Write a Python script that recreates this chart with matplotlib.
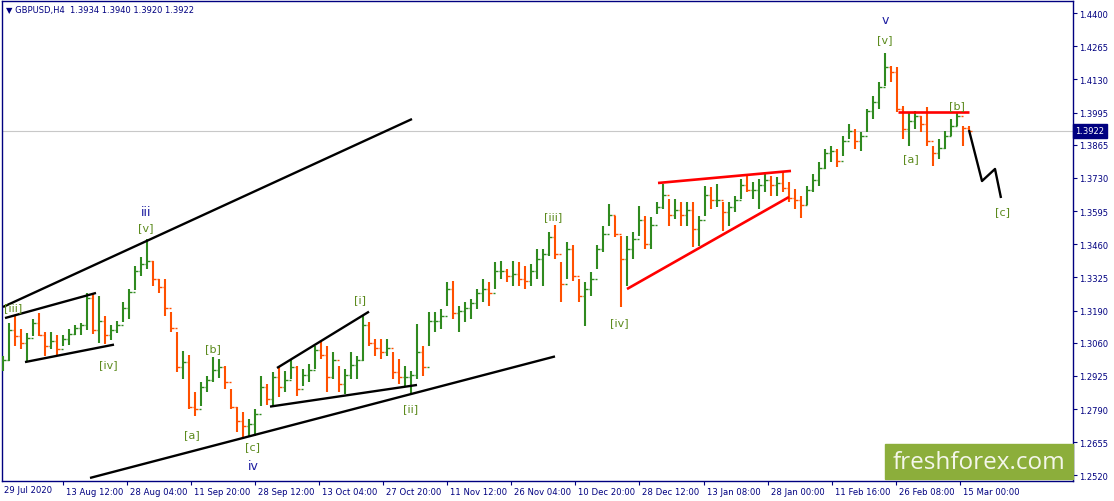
import numpy as np
import pandas as pd
import matplotlib
matplotlib.use('Agg')
import matplotlib.pyplot as plt
from matplotlib.patches import Rectangle
from matplotlib.transforms import ScaledTranslation

# daily high / low / close of GBPUSD (30 Jul 2020 .. 16 Mar 2021)
highs = [1.3005, 1.3140, 1.3168, 1.3115, 1.3100, 1.3155, 1.3180, 1.3105, 1.3105, 1.3090,
         1.3090, 1.3115, 1.3130, 1.3140, 1.3260, 1.3262, 1.3250, 1.3170, 1.3130, 1.3150,
         1.3225, 1.3280, 1.3370, 1.3410, 1.3482, 1.3390, 1.3320, 1.3320, 1.3185, 1.3105,
         1.3025, 1.3010, 1.2860, 1.2900, 1.2925, 1.3002, 1.2995, 1.2965, 1.2870, 1.2800,
         1.2778, 1.2750, 1.2790, 1.2925, 1.2890, 1.2939, 1.2960, 1.2945, 1.2994, 1.2966,
         1.2953, 1.2973, 1.3048, 1.3068, 1.3048, 1.3021, 1.2966, 1.2953, 1.3021, 1.3007,
         1.3172, 1.3143, 1.3075, 1.3075, 1.3075, 1.3021, 1.2994, 1.2966, 1.2946, 1.3136,
         1.3048, 1.3183, 1.3183, 1.3196, 1.3305, 1.3312, 1.3210, 1.3224, 1.3237, 1.3278,
         1.3319, 1.3305, 1.3387, 1.3393, 1.3360, 1.3393, 1.3387, 1.3373, 1.3380, 1.3441,
         1.3441, 1.3508, 1.3538, 1.3386, 1.3468, 1.3455, 1.3319, 1.3305, 1.3346, 1.3455,
         1.3535, 1.3623, 1.3576, 1.3495, 1.3495, 1.3508, 1.3617, 1.3576, 1.3569, 1.3630,
         1.3705, 1.3644, 1.3644, 1.3630, 1.3630, 1.3630, 1.3576, 1.3698, 1.3691, 1.3705,
         1.3630, 1.3630, 1.3657, 1.3725, 1.3745, 1.3712, 1.3725, 1.3752, 1.3739, 1.3732,
         1.3752, 1.3712, 1.3684, 1.3657, 1.3698, 1.3745, 1.3793, 1.3847, 1.3861, 1.3847,
         1.3901, 1.3949, 1.3928, 1.3915, 1.4010, 1.4064, 1.4118, 1.4237, 1.4186, 1.4179,
         1.4023, 1.3996, 1.4003, 1.3983, 1.4017, 1.3861, 1.3888, 1.3922, 1.3969, 1.3999,
         1.3942, 1.3940]
lows = [1.2945, 1.2985, 1.3047, 1.3034, 1.2983, 1.3088, 1.3085, 1.3006, 1.3035, 1.3008,
        1.3047, 1.3050, 1.3090, 1.3090, 1.3110, 1.3095, 1.3058, 1.3054, 1.3070, 1.3100,
        1.3145, 1.3155, 1.3275, 1.3330, 1.3360, 1.3290, 1.3260, 1.3170, 1.3103, 1.2940,
        1.2912, 1.2790, 1.2762, 1.2802, 1.2860, 1.2900, 1.2915, 1.2870, 1.2790, 1.2697,
        1.2672, 1.2680, 1.2680, 1.2802, 1.2805, 1.2804, 1.2840, 1.2860, 1.2912, 1.2845,
        1.2885, 1.2898, 1.2953, 1.2994, 1.2858, 1.2912, 1.2858, 1.2852, 1.2912, 1.2912,
        1.2985, 1.3048, 1.3007, 1.2994, 1.3007, 1.2912, 1.2892, 1.2885, 1.2852, 1.2912,
        1.2925, 1.3048, 1.3102, 1.3115, 1.3210, 1.3156, 1.3102, 1.3143, 1.3156, 1.3196,
        1.3224, 1.3210, 1.3278, 1.3319, 1.3305, 1.3292, 1.3292, 1.3278, 1.3292, 1.3319,
        1.3292, 1.3414, 1.3400, 1.3224, 1.3319, 1.3311, 1.3224, 1.3129, 1.3251, 1.3360,
        1.3427, 1.3535, 1.3488, 1.3203, 1.3291, 1.3400, 1.3495, 1.3441, 1.3441, 1.3583,
        1.3603, 1.3535, 1.3562, 1.3535, 1.3535, 1.3447, 1.3454, 1.3576, 1.3603, 1.3610,
        1.3515, 1.3535, 1.3590, 1.3644, 1.3671, 1.3644, 1.3603, 1.3671, 1.3657, 1.3657,
        1.3671, 1.3630, 1.3603, 1.3566, 1.3620, 1.3671, 1.3698, 1.3766, 1.3793, 1.3773,
        1.3820, 1.3888, 1.3847, 1.3840, 1.3915, 1.3969, 1.4010, 1.4104, 1.4118, 1.3996,
        1.3888, 1.3861, 1.3928, 1.3915, 1.3861, 1.3779, 1.3806, 1.3847, 1.3901, 1.3942,
        1.3861, 1.3920]
closes = [1.2990, 1.3110, 1.3088, 1.3060, 1.3080, 1.3140, 1.3090, 1.3045, 1.3065, 1.3035,
          1.3075, 1.3095, 1.3120, 1.3130, 1.3240, 1.3110, 1.3150, 1.3090, 1.3110, 1.3130,
          1.3200, 1.3265, 1.3350, 1.3380, 1.3390, 1.3320, 1.3285, 1.3200, 1.3120, 1.2960,
          1.2980, 1.2800, 1.2790, 1.2880, 1.2910, 1.2950, 1.2960, 1.2900, 1.2800, 1.2740,
          1.2720, 1.2730, 1.2770, 1.2880, 1.2830, 1.2920, 1.2880, 1.2910, 1.2960, 1.2870,
          1.2930, 1.2950, 1.3030, 1.3010, 1.2920, 1.2990, 1.2890, 1.2930, 1.2970, 1.2990,
          1.3130, 1.3060, 1.3040, 1.3020, 1.3040, 1.2940, 1.2920, 1.2920, 1.2930, 1.3020,
          1.2960, 1.3150, 1.3150, 1.3170, 1.3280, 1.3180, 1.3190, 1.3200, 1.3220, 1.3260,
          1.3280, 1.3260, 1.3350, 1.3350, 1.3330, 1.3340, 1.3320, 1.3310, 1.3350, 1.3400,
          1.3420, 1.3490, 1.3420, 1.3300, 1.3440, 1.3330, 1.3250, 1.3280, 1.3320, 1.3440,
          1.3500, 1.3580, 1.3500, 1.3400, 1.3440, 1.3480, 1.3560, 1.3460, 1.3540, 1.3610,
          1.3660, 1.3580, 1.3600, 1.3580, 1.3600, 1.3520, 1.3560, 1.3660, 1.3640, 1.3640,
          1.3590, 1.3610, 1.3640, 1.3700, 1.3680, 1.3680, 1.3700, 1.3720, 1.3700, 1.3710,
          1.3690, 1.3650, 1.3640, 1.3620, 1.3680, 1.3720, 1.3770, 1.3830, 1.3840, 1.3800,
          1.3880, 1.3920, 1.3880, 1.3900, 1.4000, 1.4040, 1.4100, 1.4180, 1.4160, 1.4010,
          1.3930, 1.3960, 1.3980, 1.3950, 1.3880, 1.3830, 1.3850, 1.3900, 1.3940, 1.3980,
          1.3934, 1.3922]
first_open = 1.2965
last_price = 1.3922
title = '\u25bc GBPUSD,H4  1.3934 1.3940 1.3920 1.3922'
first_label = '29 Jul 2020'

holidays = ['2020-12-25', '2021-01-01']
tick_times = ['2020-08-13 12:00', '2020-08-28 04:00', '2020-09-11 20:00', '2020-09-28 12:00',
              '2020-10-13 04:00', '2020-10-27 20:00', '2020-11-11 12:00', '2020-11-26 04:00',
              '2020-12-10 20:00', '2020-12-28 12:00', '2021-01-13 08:00', '2021-01-28 00:00',
              '2021-02-11 16:00', '2021-02-26 08:00', '2021-03-15 00:00']
price_ticks = [1.4400, 1.4265, 1.4130, 1.3995, 1.3865, 1.3730, 1.3595, 1.3460,
               1.3325, 1.3190, 1.3060, 1.2925, 1.2790, 1.2655, 1.2520]

# wave markup: (x in H4 bars, price)
black_lines = [[(3, 1.3205), (412, 1.3969)],
               [(90, 1.2510), (555, 1.3004)],
               [(5, 1.3160), (96, 1.3262)],
               [(25, 1.2981), (114, 1.3052)],
               [(277, 1.2957), (369, 1.3186)],
               [(270, 1.2800), (417, 1.2888)],
               [(969, 1.3924), (982, 1.3717), (995, 1.3766), (1001, 1.3648)]]
red_lines = [[(658, 1.3709), (791, 1.3758)],
             [(627, 1.3278), (789, 1.3652)],
             [(898, 1.3999), (969, 1.3999)]]
wave_labels = [('[iii]', 13, 1.3205), ('[v]', 146, 1.3530), ('[iv]', 108, 1.2973),
               ('[a]', 192, 1.2689), ('[b]', 213, 1.3038), ('[c]', 253, 1.2640),
               ('[i]', 360, 1.3237), ('[ii]', 411, 1.2794), ('[iii]', 553, 1.3575),
               ('[iv]', 619, 1.3144), ('[v]', 885, 1.4294), ('[a]', 911, 1.3811),
               ('[b]', 957, 1.4026), ('[c]', 1003, 1.3595)]
roman_labels = [('iii', 146, 1.3595), ('iv', 253, 1.2559), ('v', 885, 1.4372)]

navy = '#000080'
up_col = '#2f8a1f'
dn_col = '#ff5000'
lab_col = '#5b8a1c'

days = pd.bdate_range('2020-07-30', '2021-03-16')
days = days[~days.isin(pd.to_datetime(holidays))]
bars_per_day = 6

H = np.array(highs)
L = np.array(lows)
C = np.array(closes)
O = np.r_[first_open, C[:-1]]
xd = np.arange(len(C)) * bars_per_day + bars_per_day / 2
cols = np.where(C >= O, up_col, dn_col)

fig = plt.figure(figsize=(11.14, 5.02), dpi=100)
ax = fig.add_axes([2 / 1114, 20 / 502, 1071 / 1114, 480 / 502])
ax.set_xlim(2, 1073)
ax.set_ylim(1.249758, 1.444878)

ax.axhline(last_price, color='#c8c8c8', lw=0.8, zorder=1)

# OHLC bars
ax.vlines(xd, L, H, colors=cols, lw=1.5, zorder=3)
ax.hlines(O, xd - 2.5, xd, colors=cols, lw=1.0, zorder=3)
ax.hlines(C, xd, xd + 2.5, colors=cols, lw=1.0, zorder=3)

for ln in black_lines:
    xs, ys = zip(*ln)
    ax.plot(xs, ys, color='black', lw=1.7, zorder=4, solid_capstyle='butt')
for ln in red_lines:
    xs, ys = zip(*ln)
    ax.plot(xs, ys, color='red', lw=1.9, zorder=4, solid_capstyle='butt')

for txt, x, y in wave_labels:
    ax.text(x, y, txt, color=lab_col, fontsize=8, ha='center', va='center', zorder=5)
for txt, x, y in roman_labels:
    ax.text(x, y, txt, color='#1c1ca0', fontsize=9, ha='center', va='center', zorder=5)

# axes frame and ticks
for sp in ax.spines.values():
    sp.set_color(navy)
    sp.set_linewidth(1)
ax.yaxis.tick_right()
ax.set_yticks(price_ticks)
ax.set_yticklabels(['%.4f' % p for p in price_ticks])
ax.tick_params(axis='y', direction='out', length=3, width=0.8, color=navy,
               labelcolor=navy, labelsize=6, pad=1.5)

tpos = []
for t in tick_times:
    ts = pd.Timestamp(t)
    di = days.get_loc(ts.normalize())
    tpos.append(di * bars_per_day + ts.hour / 4)
ax.set_xticks(tpos)
ax.set_xticklabels([pd.Timestamp(t).strftime('%d %b %H:%M') for t in tick_times])
ax.tick_params(axis='x', direction='out', length=3, width=0.8, color=navy,
               labelcolor=navy, labelsize=6.1, pad=1)
shift = ScaledTranslation(2 / 72, 0, fig.dpi_scale_trans)
for lab in ax.get_xticklabels():
    lab.set_horizontalalignment('left')
    lab.set_transform(lab.get_transform() + shift)

ax.text(4, -8.5 / 480, first_label, transform=ax.get_xaxis_transform(),
        color=navy, fontsize=6.1, ha='left', va='center', clip_on=False)

ax.text(0.004, 0.983, title, transform=ax.transAxes, color=navy, fontsize=6.0,
        ha='left', va='center')

# current price marker on the scale
ax.text(1.0 + 2 / 1071, last_price, '%.4f' % last_price, transform=ax.get_yaxis_transform(),
        color='white', fontsize=6, ha='left', va='center', zorder=6, clip_on=False,
        bbox=dict(boxstyle='square,pad=0.3', fc=navy, ec=navy))

# watermark logo
fig.patches.append(Rectangle((885 / 1114, 22 / 502), 188 / 1114, 35 / 502,
                             transform=fig.transFigure, color='#8cae3b', zorder=10))
fig.text(979 / 1114, 39 / 502, 'freshforex.com', color='#f4f6ea', fontsize=17.5,
         family='Open Sans', ha='center', va='center', zorder=11)

fig.savefig('out.png', dpi=100, facecolor='white')
